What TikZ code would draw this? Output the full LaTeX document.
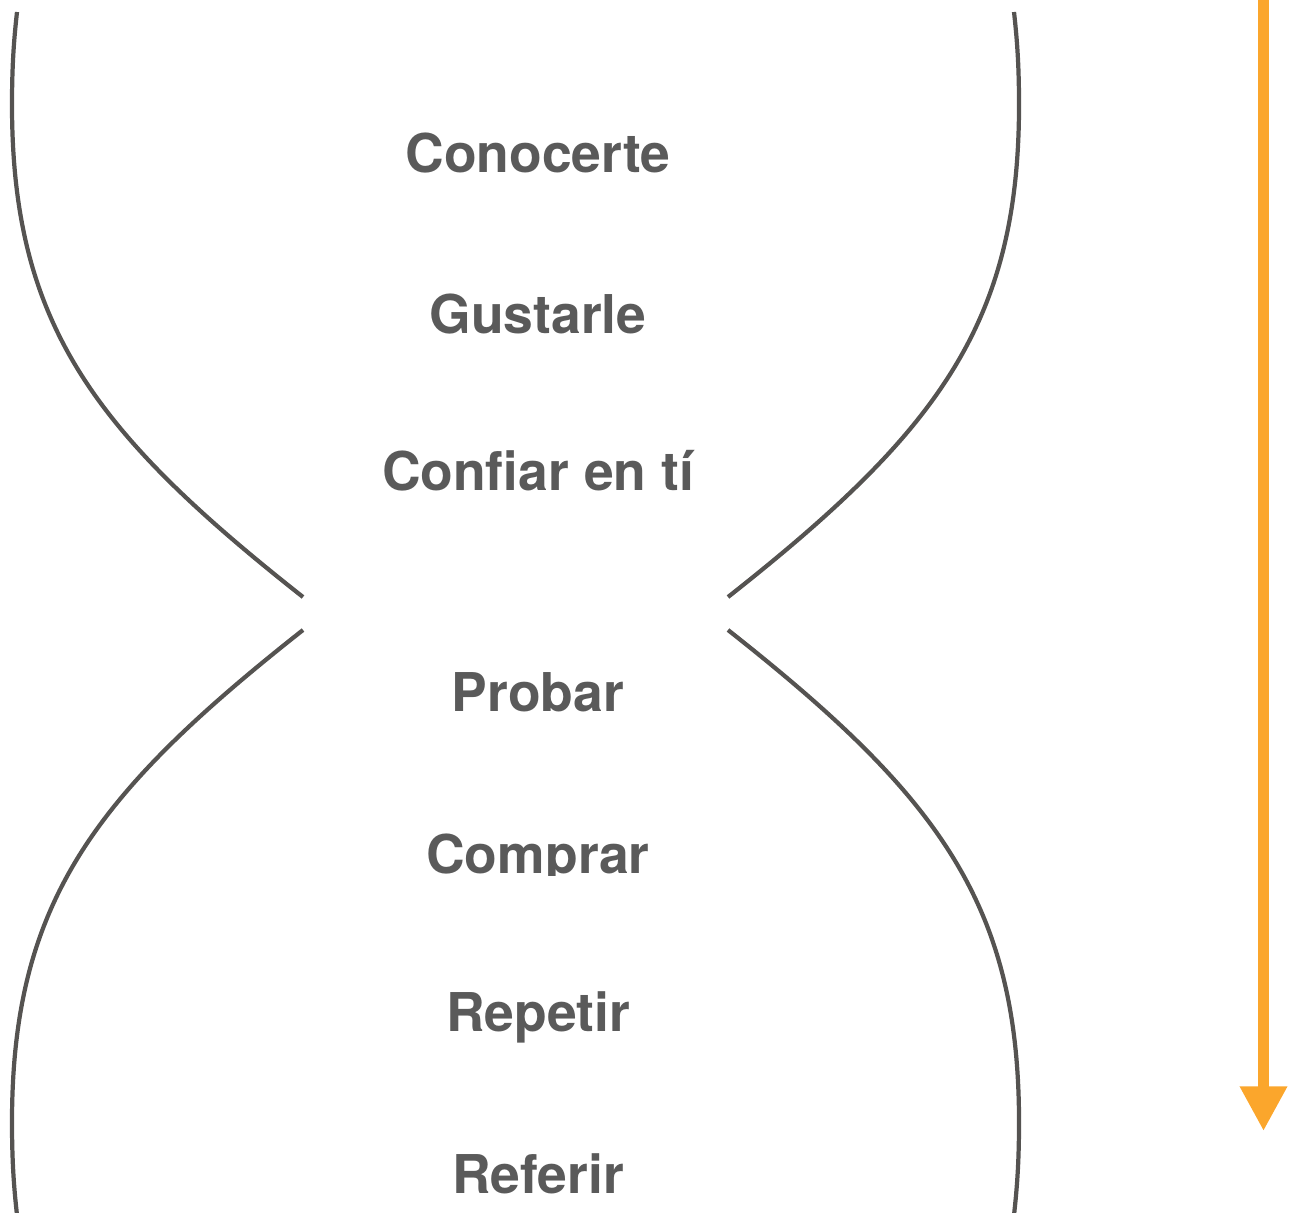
\documentclass[tikz,border=0pt]{standalone}
\usepackage{fontspec}
\setmainfont{TeX Gyre Heros}
\usetikzlibrary{arrows.meta}
\definecolor{curvegray}{HTML}{555351}
\definecolor{textgray}{HTML}{5A5A5A}
\definecolor{funnelorange}{HTML}{FBA62C}

\begin{document}
\begin{tikzpicture}[x=0.01cm,y=-0.01cm,
    funnel/.style={draw=curvegray,line width=1.2pt},
    stage/.style={text=textgray,font=\bfseries\fontsize{15.2}{18}\selectfont,anchor=base,inner sep=0pt}]
        \useasboundingbox (0,0) rectangle (1295,1212);
        % upper bowl
        \draw [funnel] (17,12) .. controls (14.5,35) and (12,60) .. (12,105)
            .. controls (12,325) and (95,433) .. (303,597);
        \draw [funnel] (1014,12) .. controls (1016.5,35) and (1019,60) .. (1019,105)
            .. controls (1019,325) and (936,433) .. (728,597);
        % lower bowl
        \draw [funnel] (17,1215) .. controls (14.5,1192) and (12,1167) .. (12,1122)
            .. controls (12,902) and (95,794) .. (303,630);
        \draw [funnel] (1014,1215) .. controls (1016.5,1192) and (1019,1167) .. (1019,1122)
            .. controls (1019,902) and (936,794) .. (728,630);
        % stages
        \node [stage] (conocerte) at (538,172) {Conocerte};
        \node [stage] (gustarle) at (538,333) {Gustarle};
        \node [stage] (confiar) at (538,490) {Confiar en tí};
        \node [stage] (probar) at (538,711) {Probar};
        \begin{scope}
            \clip (0,0) rectangle (1295,875);
            \node [stage] (comprar) at (538,873) {Comprar};
        \end{scope}
        \node [stage] (repetir) at (538,1031) {Repetir};
        \node [stage] (referir) at (538,1193) {Referir};
        % flow arrow
        \coordinate (flowtop) at (1263.5,0);
        \coordinate (flowtip) at (1263.5,1131);
        \draw [funnelorange, line width=3.05pt, -{Triangle[width=4.47mm,length=4.47mm]}] (flowtop)--(flowtip);
\end{tikzpicture}
\end{document}
